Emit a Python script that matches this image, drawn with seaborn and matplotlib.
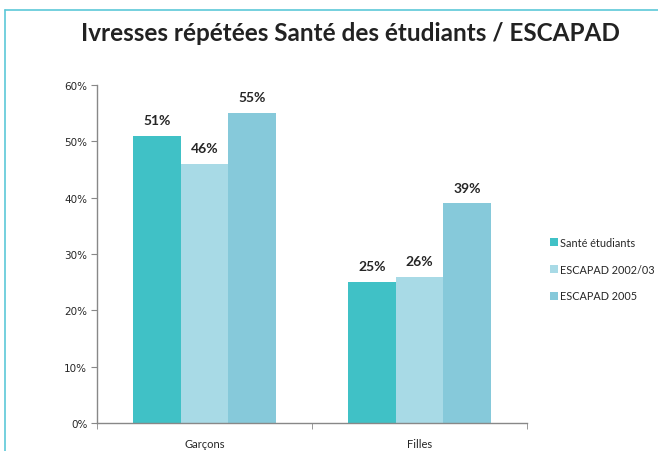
import pandas as pd
import matplotlib.pyplot as plt
import seaborn as sns
from matplotlib.lines import Line2D

# données
groupes = ['Garçons', 'Filles']
series = ['Santé étudiants', 'ESCAPAD 2002/03', 'ESCAPAD 2005']
sante = [51, 25]
escapad_0203 = [46, 26]
escapad_2005 = [55, 39]
couleurs = ['#40C1C6', '#A8DAE6', '#86C9DA']

df = pd.DataFrame({
    'groupe': groupes * 3,
    'serie': [s for s in series for _ in groupes],
    'valeur': sante + escapad_0203 + escapad_2005,
})

sns.set_style('white')
plt.rcParams['font.family'] = ['Lato', 'DejaVu Sans']

fig = plt.figure(figsize=(6.58, 4.52), dpi=100)
ax = fig.add_axes([0.1474, 0.0619, 0.6535, 0.7478])

sns.barplot(data=df, x='groupe', y='valeur', hue='serie', order=groupes,
            hue_order=series, palette=couleurs, width=0.665, gap=0,
            saturation=1, edgecolor='none', ax=ax, legend=True)

for c in ax.containers:
    ax.bar_label(c, fmt='%d%%', padding=7, fontsize=10, fontweight='bold')

ax.set_ylim(0, 60)
ax.set_xlim(-0.5, 1.5)
ax.set_yticks(range(0, 61, 10))
ax.set_yticklabels([f'{v}%' for v in range(0, 61, 10)], fontsize=7.5,
                   family=['DejaVu Sans'])
ax.tick_params(axis='y', length=4, color='#888888', direction='out', left=True, pad=3)
ax.tick_params(axis='x', length=0, labelsize=8, pad=11)
ax.set_xticks([-0.5, 0.5, 1.5], minor=True)
ax.tick_params(axis='x', which='minor', length=4, color='#888888', direction='out', bottom=True)
ax.set_xlabel('')
ax.set_ylabel('')
for s in ['top', 'right']:
    ax.spines[s].set_visible(False)
for s in ['left', 'bottom']:
    ax.spines[s].set_color('#888888')
    ax.spines[s].set_linewidth(1)

ax.legend(title=None, loc='center left', bbox_to_anchor=(1.03, 0.455), frameon=False,
          fontsize=7.8, handlelength=0.8, handleheight=0.8, handletextpad=0.2,
          labelspacing=1.45)

fig.text(0.532, 0.925, 'Ivresses répétées Santé des étudiants / ESCAPAD',
         ha='center', va='center', fontsize=17.5, fontweight='bold', color='#222222')

# cadre cyan
fig.add_artist(Line2D([5 / 658, 1], [1 - 11 / 452, 1 - 11 / 452], color='#5CC8D8', lw=1.2))
fig.add_artist(Line2D([5 / 658, 5 / 658], [0, 1 - 11 / 452], color='#5CC8D8', lw=1.2))

fig.savefig('out.png', dpi=100)
